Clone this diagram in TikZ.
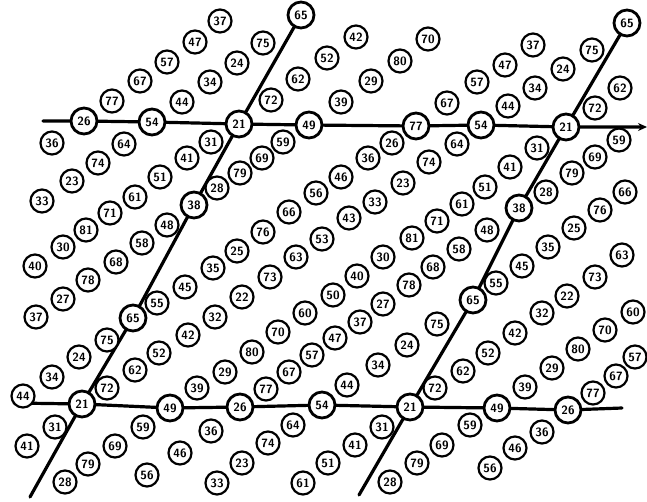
\documentclass[tikz,border=0pt]{standalone}
\usetikzlibrary{arrows.meta,backgrounds}
\tikzset{
  num/.style={circle,draw=black,fill=white,line width=2.2pt,minimum size=23pt,inner sep=0pt,
    font=\sffamily\bfseries\fontsize{12}{12}\selectfont},
  numon/.style={num,minimum size=26pt,line width=2.8pt},
  axisline/.style={line width=3.2pt,black,line cap=round},
}
\begin{document}
\begin{tikzpicture}[x=1pt,y=-1pt]
\useasboundingbox (0,0) rectangle (647,501);
% ordinary circled numbers
\foreach \x/\y/\t [count=\k] in {
 220/21/37, 195/42/47, 167/62/57, 140/81/67, 112/101/77, 52/143/36,
 263/43/75, 237/63/24, 210/82/34, 182/102/44, 124/144/64, 98/163/74, 72/181/23, 42/201/33,
 356/37/42, 327/58/52, 298/79/62, 271/100/72, 211/142/31, 187/158/41, 160/177/51, 135/197/61, 110/213/71, 86/230/81, 63/247/30, 35/266/40,
 428/39/70, 400/61/80, 371/81/29, 341/102/39, 283/142/59, 262/158/69, 240/173/79, 217/188/28, 167/225/48, 142/243/58, 116/262/68, 88/280/78, 63/299/27, 36/317/37,
 533/45/37, 505/65/47, 477/82/57, 447/103/67, 392/143/26, 368/158/36, 341/177/46, 316/193/56, 289/212/66, 263/232/76, 237/251/25, 213/268/35, 185/287/45, 157/303/55, 107/340/75, 79/357/24, 52/377/34, 23/396/44,
 592/50/75, 563/69/24, 535/88/34, 508/106/44, 457/144/64, 429/162/74, 403/183/23, 375/202/33, 349/218/43, 322/239/53, 296/257/63, 270/277/73, 242/297/22, 215/317/32, 188/335/42, 159/353/52, 135/370/62, 107/388/72, 55/427/31, 27/446/41,
 620/88/62, 595/108/72, 537/148/31, 510/167/41, 485/187/51, 462/204/61, 437/221/71, 412/238/81, 383/257/30, 357/276/40, 333/295/50, 305/313/60, 278/332/70, 252/352/80, 225/372/29, 197/388/39, 143/427/59, 115/446/69, 88/464/79, 65/482/28,
 619/140/59, 595/157/69, 572/173/79, 546/192/28, 487/230/48, 459/249/58, 433/267/68, 409/285/78, 383/304/27, 360/322/37, 335/338/47, 312/355/57, 289/372/67, 266/389/77, 211/431/36, 180/453/46, 147/475/56,
 625/192/66, 600/210/76, 574/228/25, 548/247/35, 522/266/45, 496/283/55, 437/324/75, 407/345/24, 378/365/34, 347/385/44, 293/425/64, 268/443/74, 242/463/23, 217/483/33,
 622/255/63, 595/277/73, 567/296/22, 542/313/32, 515/333/42, 488/353/52, 463/371/62, 435/388/72, 382/427/31, 355/445/41, 328/463/51, 303/483/61,
 633/312/60, 605/330/70, 578/349/80, 552/368/29, 525/387/39, 470/425/59, 442/445/69, 417/463/79, 390/482/28,
 635/357/57, 616/376/67, 593/393/77, 542/432/36, 515/448/46, 490/468/56}
 \node[num] (n\k) at (\x,\y) {\t};
% circled numbers lying on the lines
\node[numon] (a26) at (84,121) {26};
\node[numon] (a54) at (152,122) {54};
\node[numon] (a21) at (239,124) {21};
\node[numon] (a49) at (309,125) {49};
\node[numon] (a77) at (416,126) {77};
\node[numon] (b54) at (481,125) {54};
\node[numon] (b21) at (566,127) {21};
\node[numon] (c21) at (82,404) {21};
\node[numon] (c49) at (170,408) {49};
\node[numon] (c26) at (240,407) {26};
\node[numon] (c54) at (322,405) {54};
\node[numon] (d21) at (410,407) {21};
\node[numon] (d49) at (497,408) {49};
\node[numon] (d26) at (568,410) {26};
\node[numon] (L65) at (301,15) {65};
\node[numon] (L38) at (194,205) {38};
\node[numon] (L65b) at (133,318) {65};
\node[numon] (R65) at (627,23) {65};
\node[numon] (R38) at (519,208) {38};
\node[numon] (R65b) at (473,300) {65};
\coordinate (tl) at (43,121);
\coordinate (tr) at (647,127);
\coordinate (bl) at (14,403);
\coordinate (br) at (622,408);
\coordinate (lend) at (30,497);
\coordinate (rend) at (359,495);
\begin{scope}[on background layer]
\draw[axisline,-{Stealth[length=9pt,width=8pt]}] (tl) -- (a26.center) -- (a54.center) -- (a21.center) -- (a49.center) -- (a77.center) -- (b54.center) -- (b21.center) -- (tr);
\draw[axisline] (bl) -- (c21.center) -- (c49.center) -- (c26.center) -- (c54.center) -- (d21.center) -- (d49.center) -- (d26.center) -- (br);
\draw[axisline] (L65.center) -- (a21.center) -- (L38.center) -- (L65b.center) -- (c21.center) -- (lend);
\draw[axisline] (R65.center) -- (b21.center) -- (R38.center) -- (R65b.center) -- (d21.center) -- (rend);
\end{scope}
\end{tikzpicture}
\end{document}
